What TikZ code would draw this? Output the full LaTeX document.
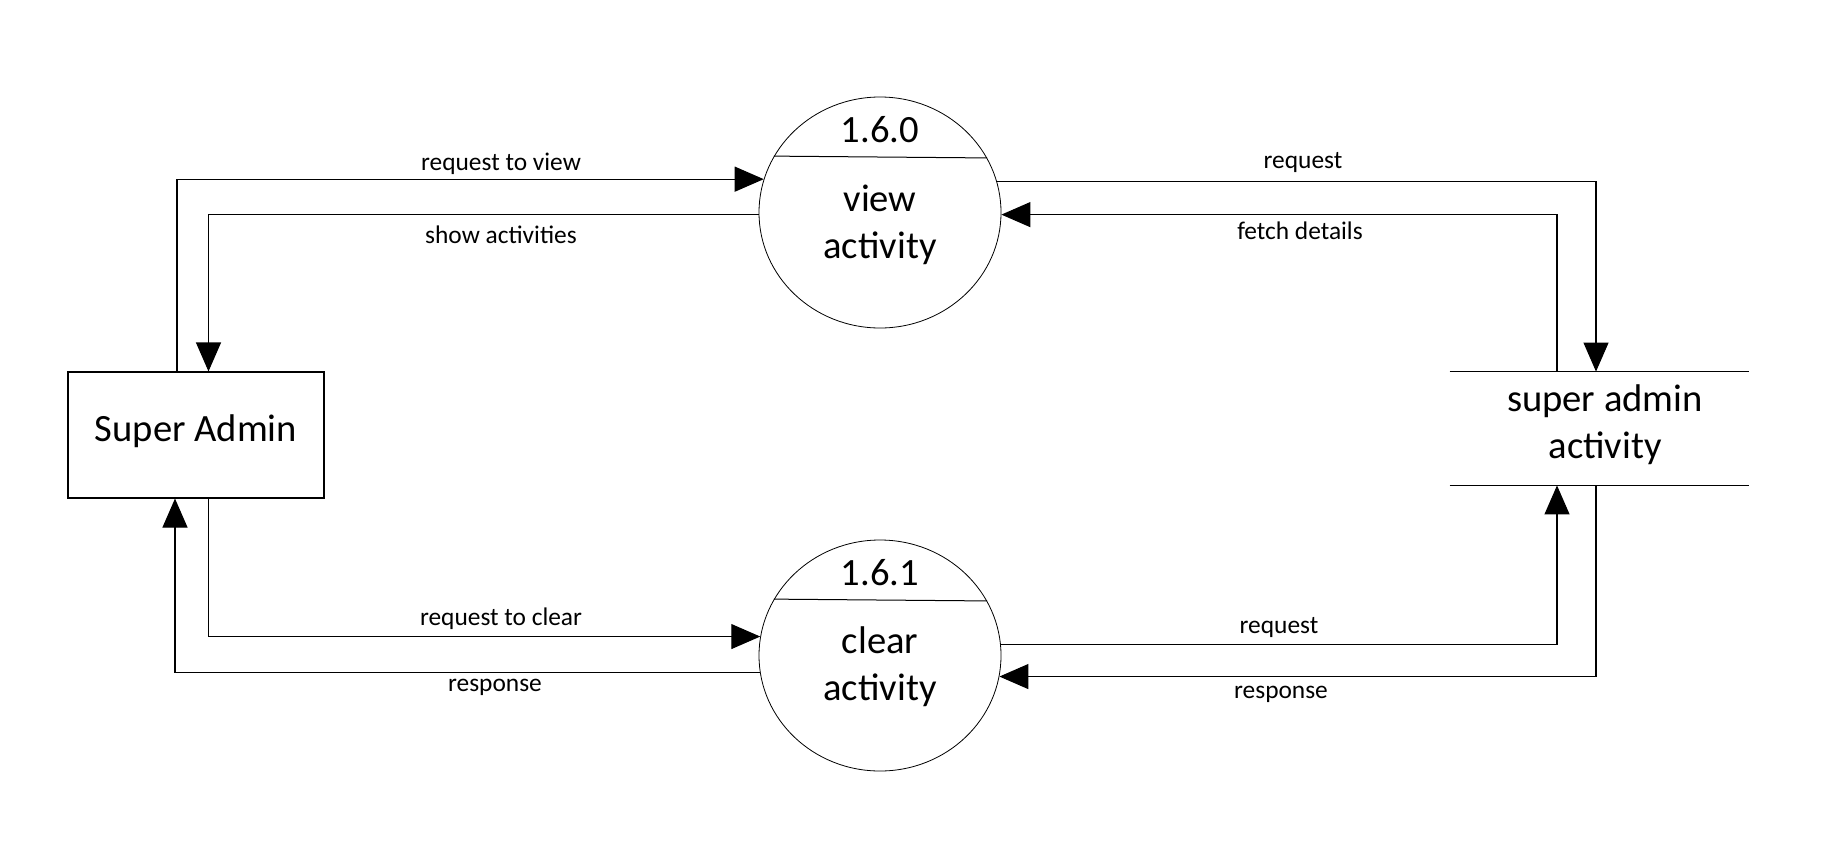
\documentclass[tikz,border=0pt]{standalone}
\usepackage{fontspec}
\setmainfont{Carlito}
\usetikzlibrary{arrows.meta,shapes.geometric}

\begin{document}
\begin{tikzpicture}[x=0.5pt,y=-0.5pt,
  flow/.style={draw, line width=0.55pt, -{Triangle[length=14.5pt,width=12.5pt]}},
  rule/.style={draw, line width=0.5pt},
  process/.style={ellipse, draw, line width=0.4pt, minimum width=121pt, minimum height=115.5pt, inner sep=0pt},
  entity/.style={rectangle, draw, line width=0.55pt, minimum width=128pt, minimum height=63pt, inner sep=0pt},
  datastore/.style={rectangle, minimum width=149.5pt, minimum height=56.5pt, inner sep=0pt},
  big/.style={font=\fontsize{19.3}{23.5}\selectfont, align=center, inner sep=0pt},
  lbl/.style={font=\fontsize{12.7}{15}\selectfont, inner sep=0pt},
]
\useasboundingbox (0,0) rectangle (1834,846);

% external entity
\node[entity] (sa) at (196,435) {};
\node[big] (satext) at (196,431) {Super Admin};

% processes
\node[process] (v) at (880,212.5) {};
\node[big] (vnum) at (880,130) {1.6.0};
\node[big] (vtext) at (880,225) {view\\activity};
\draw[rule] (v.152.4) -- (v.27.6);

\node[process] (c) at (880,655.5) {};
\node[big] (cnum) at (880,573) {1.6.1};
\node[big] (ctext) at (880,667) {clear\\activity};
\draw[rule] (c.152.4) -- (c.27.6);

% data store
\node[datastore] (st) at (1599.5,428.5) {};
\node[big] (sttext) at (1605,425) {super admin\\activity};
\draw[rule] (st.north west) -- (st.north east);
\draw[rule] (st.south west) -- (st.south east);

% flows: entity <-> view activity
\draw[flow] ([xshift=-9.5pt]sa.north) |- (v.164.9);
\draw[flow] (v.181.2) -| ([xshift=6.25pt]sa.north);
% flows: entity <-> clear activity
\draw[flow] ([xshift=6.25pt]sa.south) |- (c.171.2);
\draw[flow] (c.188.3) -| ([xshift=-10.5pt]sa.south);
% flows: view activity <-> store
\draw[flow] (v.15.1) -| ([xshift=-1.75pt]st.north);
\draw[flow] ([xshift=-21.25pt]st.north) |- (v.-1.2);
% flows: clear activity <-> store
\draw[flow] (c.5.5) -| ([xshift=-21.25pt]st.south);
\draw[flow] ([xshift=-1.75pt]st.south) |- (c.-10.7);

% flow labels
\node[lbl] (l1) at (501,164) {request to view};
\node[lbl] (l2) at (501,235) {show activities};
\node[lbl] (l3) at (1303,163) {request};
\node[lbl] (l4) at (1300,231) {fetch details};
\node[lbl] (l5) at (501,619) {request to clear};
\node[lbl] (l6) at (495,687) {response};
\node[lbl] (l7) at (1279,628) {request};
\node[lbl] (l8) at (1281,694) {response};
\end{tikzpicture}
\end{document}
